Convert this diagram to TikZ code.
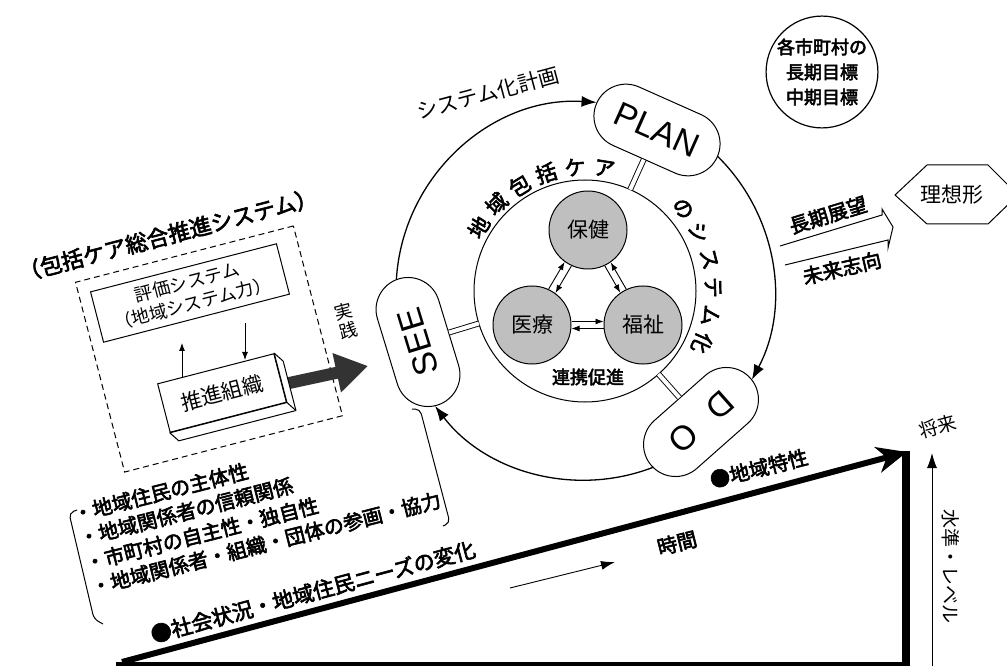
\documentclass[tikz,border=0pt]{standalone}
\usepackage{fontspec}
\setmainfont{Noto Sans CJK JP}
\newfontfamily\mb{Noto Sans CJK JP}[FakeBold=3]
\newfontfamily\lat{Liberation Sans}
\usetikzlibrary{arrows.meta,shapes.misc,calc}
\newcommand\fsz[2]{\fontsize{#1}{#2}\selectfont}
\definecolor{darkarrow}{HTML}{333333}
\begin{document}
\begin{tikzpicture}[x=1pt,y=1pt,
  pill/.style={rounded rectangle, draw, fill=white, line width=1pt, minimum width=132pt, minimum height=64pt, inner sep=0pt, font=\lat\fsz{34}{36}},
  gcirc/.style={circle, draw, fill=black!25, line width=1pt, minimum size=78pt, inner sep=0pt, font=\fsz{21}{24}},
  sarr/.style={line width=0.9pt, -{Latex[length=8pt,width=6pt]}},
  dbl/.style={double, double distance=4pt, line width=0.9pt},
  cyc/.style={line width=1.3pt, -{Latex[length=15pt,width=11pt]}},
  ctext/.style={font=\mb\fsz{21}{21}, inner sep=0pt},
  lst/.style={font=\mb\fsz{20}{24}, inner sep=0pt, anchor=base west},
  thin/.style={line width=0.9pt}
]
\useasboundingbox (0,0) rectangle (1007,665);
\clip (0,0) rectangle (1007,665);

% ---------- central cycle ----------
\coordinate (C) at (585,374);
\node[circle, draw, line width=1pt, minimum size=222pt, inner sep=0pt] (inner) at (C) {};

\node[gcirc] (hoken) at (588,435) {保健};
\node[gcirc] (iryo) at (532,340) {医療};
\node[gcirc] (fukushi) at (643,340) {福祉};

\draw[sarr, transform canvas={shift={(-3.4,2)}}] (iryo) -- (hoken);
\draw[sarr, transform canvas={shift={(3.4,-2)}}] (hoken) -- (iryo);
\draw[sarr, transform canvas={shift={(3,1.75)}}] (fukushi) -- (hoken);
\draw[sarr, transform canvas={shift={(-3,-1.75)}}] (hoken) -- (fukushi);
\draw[sarr, transform canvas={shift={(0,3.5)}}] (iryo) -- (fukushi);
\draw[sarr, transform canvas={shift={(0,-3.5)}}] (fukushi) -- (iryo);

\node[font=\mb\fsz{18}{20}] (renkei) at (588,288) {連携促進};

\foreach \ch [count=\i from 0] in {地,域,包,括,ケ,ア}
  \node[ctext, rotate={149-13.6*\i-90}] at ([shift={({149-13.6*\i}:124)}]C) {\ch};
\foreach \ch [count=\i from 0] in {の,シ,ス,テ,ム,化}
  \node[ctext, rotate={40-12.8*\i-90}] at ([shift={({40-12.8*\i}:128)}]C) {\ch};

% outer arcs
\draw[cyc] ([shift={(176.5:189)}]C) arc[start angle=176.5, end angle=86.5, radius=189];
\draw[cyc] ([shift={(45.5:189)}]C) arc[start angle=45.5, end angle=-28, radius=189];
\draw[cyc] ([shift={(-69:189)}]C) arc[start angle=-69, end angle=-142.5, radius=189];

% PDCA nodes
\node[pill, rotate=-24] (plan) at (657,535) {PLAN};
\node[pill, rotate=107] (see) at (418,323) {SEE};
\node[pill, rotate=-138.5] (do) at (701,243) {D\hspace{0.7em}O};

\coordinate (pi) at ([shift={(66:111)}]C);
\coordinate (si) at ([shift={(197:111)}]C);
\coordinate (di) at ([shift={(-48.5:111)}]C);
\draw[dbl] (pi) -- (plan);
\draw[dbl] (si) -- (see);
\draw[dbl] (di) -- (do);

\node[font=\fsz{21}{24}, rotate=15] (keikaku) at (488,572) {システム化計画};

% ---------- top right ----------
\node[draw, circle, line width=1.2pt, minimum size=110pt, inner sep=0pt, align=center, font=\mb\fsz{18}{25}] (goal) at (822,593) {各市町村の\\長期目標\\中期目標};

\draw[line width=1pt, fill=white] (895,470) -- (927,500) -- (988,500) -- (1018,470) -- (988,441) -- (927,441) -- cycle;
\node[font=\fsz{21}{24}] (risou) at (952,470) {理想形};

\draw[line width=1pt] (780,419) -- (882,450) -- (882,456) -- (893,438) -- (888,417) -- (888,425) -- (785,400);
\node[font=\mb\fsz{20}{22}, rotate=17] (chouki) at (828,450) {長期展望};
\node[font=\mb\fsz{20}{22}, rotate=13] (mirai) at (842,397) {未来志向};

% ---------- left group ----------
\node[font=\mb\fsz{22}{24}, rotate=14.5] (title) at (168,430) {（包括ケア総合推進システム）};

\node[draw, dash pattern=on 6pt off 4pt, line width=1pt, minimum width=225pt, minimum height=196pt, rotate=14.5, inner sep=0pt] (dbox) at (209,316) {};

\node[draw, line width=1pt, minimum width=192pt, minimum height=52pt, rotate=14.5, align=center, inner sep=0pt, font=\fsz{18}{22}] (eval) at (190,372) {評価システム\\（地域システム力）};

\coordinate (u1) at (182,288);
\coordinate (u2) at (182,322);
\coordinate (d1) at (245,342);
\coordinate (d2) at (245,305);
\draw[thin, -{Latex[length=8pt,width=6pt]}] (u1) -- (u2);
\draw[thin, -{Latex[length=8pt,width=6pt]}] (d1) -- (d2);

\coordinate (a1) at (280,280);
\coordinate (a2) at (368,299);
\draw[line width=12pt, darkarrow, -{Triangle[length=32pt,width=38pt]}] (a1) -- (a2);

\node[draw, fill=white, line width=1pt, minimum width=120pt, minimum height=50pt, rotate=14.5, inner sep=0pt, font=\fsz{21}{24}] (org) at (222,272) {推進組織};
\draw[line width=1pt, fill=white, line join=round] (org.north east) -- ($(org.north east)+(9,-8)$) -- ($(org.south east)+(9,-8)$) -- ($(org.south west)+(9,-8)$) -- (org.south west) -- (org.south east) -- cycle;
\draw[line width=1pt] (org.south east) -- ++(9,-8);

\node[font=\fsz{18}{20}, rotate=14.5, align=center] (jissen) at (346,344) {実\\践};

% brackets
\draw[line width=1pt, rounded corners=5pt] (77,155) -- (69,152) -- (94,46) -- (103,41);
\draw[line width=1pt, rounded corners=5pt] (412,256) -- (420,256) -- (450,142) -- (443,139);

\node[lst, rotate=14.2] (l1) at (75,143) {・地域住民の主体性};
\node[lst, rotate=14.2] (l2) at (81,119) {・地域関係者の信頼関係};
\node[lst, rotate=14.2] (l3) at (87,94) {・市町村の自主性・独自性};
\node[lst, rotate=14.2] (l4) at (93,70) {・地域関係者・組織・団体の参画・協力};

\node[font=\mb\fsz{21}{24}, inner sep=0pt, anchor=base west, rotate=15] (shakai) at (153,22) {●社会状況・地域住民ニーズの変化};

% ---------- bottom frame ----------
\coordinate (b0) at (122,3);
\coordinate (b1) at (907,213);
\draw[line width=6pt, -{Stealth[length=30pt,width=26pt,inset=9pt]}] (b0) -- (b1);
\draw[line width=8pt] (906,214) -- (906,-5);
\draw[line width=6pt] (116,0) -- (910,0);

\node[font=\mb\fsz{20}{22}, inner sep=0pt, anchor=base west, rotate=14] (tokusei) at (712,177) {●地域特性};
\node[font=\mb\fsz{20}{22}, rotate=14] (jikan) at (677,122) {時間};
\coordinate (t1) at (510,77);
\coordinate (t2) at (615,103);
\draw[thin, -{Latex[length=14pt,width=9pt]}] (t1) -- (t2);

\coordinate (v1) at (932,-2);
\coordinate (v2) at (932,212);
\draw[thin, -{Latex[length=15pt,width=10pt]}] (v1) -- (v2);
\node[font=\fsz{19}{20}, rotate=15] (shourai) at (938,238) {将来};
\node[font=\fsz{19}{20}, rotate=-90] (suijun) at (951,99) {水準・レベル};

\end{tikzpicture}
\end{document}
